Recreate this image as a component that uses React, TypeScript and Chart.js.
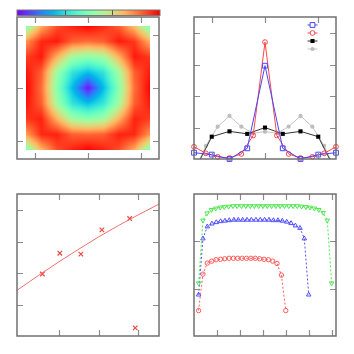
import React, { useEffect, useRef } from 'react';
import { Chart, registerables } from 'chart.js';

Chart.register(...registerables);

// ---------- Panel 1: heat map (top-left) ----------
const heatAxis = [-3.5, -2.625, -1.75, -0.875, 0, 0.875, 1.75, 2.625, 3.5];
// rows listed from top (y = 3.5) to bottom (y = -3.5)
const heatRow0 = [0.5, 0.76, 0.9, 0.96, 1.0, 0.95, 0.88, 0.72, 0.48];
const heatRow1 = [0.8, 0.95, 0.97, 0.88, 0.86, 0.88, 0.97, 0.93, 0.76];
const heatRow2 = [0.92, 0.97, 0.76, 0.57, 0.53, 0.57, 0.76, 0.97, 0.93];
const heatRow3 = [0.98, 0.88, 0.56, 0.35, 0.27, 0.35, 0.57, 0.88, 0.97];
const heatRow4 = [1.0, 0.86, 0.52, 0.26, 0.02, 0.26, 0.52, 0.86, 1.0];
const heatRow5 = [0.98, 0.88, 0.57, 0.35, 0.27, 0.36, 0.57, 0.88, 0.97];
const heatRow6 = [0.93, 0.96, 0.76, 0.57, 0.53, 0.57, 0.76, 0.96, 0.92];
const heatRow7 = [0.78, 0.95, 0.96, 0.88, 0.87, 0.88, 0.96, 0.95, 0.8];
const heatRow8 = [0.5, 0.74, 0.9, 0.96, 1.0, 0.96, 0.9, 0.76, 0.5];
const heatTicks = [-3, 0, 3];
const colorbarTicks = [0.3333, 0.6667];

// ---------- Panel 2: peaks (top-right) ----------
const peakX9 = [-4, -3, -2, -1, 0, 1, 2, 3, 4];
const peakX13 = [-4, -3.333, -2.667, -2, -1.333, -0.667, 0, 0.667, 1.333, 2, 2.667, 3.333, 4];
const blueSquares = [0.2, 0.14, 0.0, 0.34, 2.97, 0.34, 0.0, 0.14, 0.2];
const redCircles = [0.39, 0.18, 0.07, 0.03, 0.16, 0.75, 3.72, 0.75, 0.16, 0.03, 0.07, 0.18, 0.39];
const blackSquares = [-0.4, 0.71, 0.88, 0.8, 1.0, 0.8, 0.88, 0.71, -0.4];
const grayDots = [-0.4, 0.42, 1.03, 1.37, 1.03, 0.82, 0.87, 0.82, 1.03, 1.37, 1.03, 0.42, -0.4];
const peakXTicks = [-3, 0, 3];
const peakYTicks = [1, 2, 3, 4];

// ---------- Panel 3: scatter + fit (bottom-left) ----------
const scatterX = [0.58, 1.02, 1.55, 2.08, 2.78, 2.92];
const scatterY = [1.97, 2.63, 2.6, 3.37, 3.73, 0.26];
const fitX = [-0.06, 0.5, 1, 1.5, 2, 2.5, 3, 3.52];
const fitY = [1.45, 1.94, 2.36, 2.76, 3.15, 3.51, 3.85, 4.19];
const fitXTicks = [1, 2, 3];
const fitYTicks = [1, 2, 3, 4];

// ---------- Panel 4: plateaus (bottom-right) ----------
const redPlateauX = [0.2, 0.39, 0.58, 0.77, 0.96, 1.15, 1.34, 1.53, 1.72, 1.91, 2.1, 2.29, 2.48, 2.67, 2.86, 3.05, 3.24, 3.43, 3.62, 3.81, 4.0];
const redPlateauY = [0.55, 1.31, 1.54, 1.58, 1.61, 1.62, 1.63, 1.64, 1.64, 1.64, 1.64, 1.64, 1.64, 1.64, 1.63, 1.62, 1.61, 1.58, 1.53, 1.29, 0.55];
const bluePlateauX = [0.2, 0.39, 0.58, 0.78, 0.97, 1.16, 1.35, 1.54, 1.74, 1.93, 2.12, 2.31, 2.5, 2.7, 2.89, 3.08, 3.27, 3.46, 3.66, 3.85, 4.04, 4.23, 4.42, 4.62, 4.81, 5.0];
const bluePlateauY = [0.88, 2.05, 2.3, 2.36, 2.39, 2.41, 2.42, 2.43, 2.44, 2.44, 2.44, 2.44, 2.44, 2.44, 2.44, 2.44, 2.44, 2.43, 2.43, 2.42, 2.4, 2.37, 2.32, 2.27, 2.05, 0.88];
const greenPlateauX = [0.2, 0.39, 0.57, 0.76, 0.95, 1.14, 1.32, 1.51, 1.7, 1.88, 2.07, 2.26, 2.45, 2.63, 2.82, 3.01, 3.19, 3.38, 3.57, 3.75, 3.94, 4.13, 4.32, 4.5, 4.69, 4.88, 5.06, 5.25, 5.44, 5.63, 5.81, 6.0];
const greenPlateauY = [1.12, 2.43, 2.58, 2.65, 2.68, 2.7, 2.71, 2.72, 2.73, 2.73, 2.73, 2.73, 2.73, 2.73, 2.73, 2.73, 2.73, 2.73, 2.73, 2.73, 2.73, 2.73, 2.73, 2.73, 2.72, 2.71, 2.7, 2.68, 2.65, 2.59, 2.43, 1.12];
const plateauXTicks = [1, 2, 3, 4, 5, 6];
const plateauYTicks = [1, 2];

// ---------- helpers ----------
const TICK = 6;
const pts = (xs: number[], ys: number[]) => xs.map((x, i) => ({ x, y: ys[i] }));

function rainbow(t: number): [number, number, number] {
  const v = Math.max(0, Math.min(1, t));
  const r = Math.min(1, Math.abs(2 * v - 0.5));
  const g = Math.sin(Math.PI * v);
  const b = Math.cos((Math.PI * v) / 2);
  return [r * 255, g * 255, b * 255];
}

function fracIndex(v: number, axis: number[]) {
  const n = axis.length;
  if (v <= axis[0]) return 0;
  if (v >= axis[n - 1]) return n - 1;
  for (let i = 0; i < n - 1; i++) {
    if (v >= axis[i] && v <= axis[i + 1]) return i + (v - axis[i]) / (axis[i + 1] - axis[i]);
  }
  return n - 1;
}

function frameTicks(xTicks: number[], yTicks: number[]) {
  return {
    id: 'frameTicks',
    afterDraw(chart: any) {
      const { ctx, chartArea: a, scales } = chart;
      ctx.save();
      ctx.strokeStyle = '#8c8c8c';
      ctx.lineWidth = 1.2;
      ctx.beginPath();
      for (const v of xTicks) {
        const p = Math.round(scales.x.getPixelForValue(v)) + 0.5;
        ctx.moveTo(p, a.bottom);
        ctx.lineTo(p, a.bottom - TICK);
        ctx.moveTo(p, a.top);
        ctx.lineTo(p, a.top + TICK);
      }
      for (const v of yTicks) {
        const p = Math.round(scales.y.getPixelForValue(v)) + 0.5;
        ctx.moveTo(a.left, p);
        ctx.lineTo(a.left + TICK, p);
        ctx.moveTo(a.right, p);
        ctx.lineTo(a.right - TICK, p);
      }
      ctx.stroke();
      ctx.strokeStyle = '#707070';
      ctx.lineWidth = 1.5;
      ctx.strokeRect(a.left, a.top, a.right - a.left, a.bottom - a.top);
      ctx.restore();
    },
  };
}

const heatPlugin = {
  id: 'heat',
  beforeDatasetsDraw(chart: any) {
    const { ctx, scales } = chart;
    const xs = scales.x;
    const ys = scales.y;
    const rows = [heatRow0, heatRow1, heatRow2, heatRow3, heatRow4, heatRow5, heatRow6, heatRow7, heatRow8];
    const n = heatAxis.length;
    const x0 = Math.round(xs.getPixelForValue(heatAxis[0]));
    const x1 = Math.round(xs.getPixelForValue(heatAxis[n - 1]));
    const y0 = Math.round(ys.getPixelForValue(heatAxis[n - 1]));
    const y1 = Math.round(ys.getPixelForValue(heatAxis[0]));
    const w = x1 - x0;
    const h = y1 - y0;
    const off = document.createElement('canvas');
    off.width = w;
    off.height = h;
    const octx = off.getContext('2d')!;
    const img = octx.createImageData(w, h);
    for (let py = 0; py < h; py++) {
      const vy = ys.getValueForPixel(y0 + py + 0.5);
      const fy = n - 1 - fracIndex(vy, heatAxis); // row index from top
      const r0 = Math.min(n - 2, Math.floor(fy));
      const ty = fy - r0;
      for (let px = 0; px < w; px++) {
        const vx = xs.getValueForPixel(x0 + px + 0.5);
        const fx = fracIndex(vx, heatAxis);
        const c0 = Math.min(n - 2, Math.floor(fx));
        const tx = fx - c0;
        const v =
          rows[r0][c0] * (1 - tx) * (1 - ty) +
          rows[r0][c0 + 1] * tx * (1 - ty) +
          rows[r0 + 1][c0] * (1 - tx) * ty +
          rows[r0 + 1][c0 + 1] * tx * ty;
        const [r, g, b] = rainbow(v);
        const k = (py * w + px) * 4;
        img.data[k] = r;
        img.data[k + 1] = g;
        img.data[k + 2] = b;
        img.data[k + 3] = 255;
      }
    }
    octx.putImageData(img, 0, 0);
    ctx.drawImage(off, x0, y0);
  },
  afterDraw(chart: any) {
    const { ctx, chartArea: a } = chart;
    const top = a.top - 7;
    const hgt = 5.5;
    const left = a.left;
    const width = a.right - a.left + 1;
    ctx.save();
    for (let i = 0; i < width; i++) {
      const [r, g, b] = rainbow(i / (width - 1));
      ctx.fillStyle = `rgb(${r | 0},${g | 0},${b | 0})`;
      ctx.fillRect(left + i, top, 1, hgt);
    }
    ctx.strokeStyle = '#555';
    ctx.lineWidth = 1;
    ctx.beginPath();
    for (const t of colorbarTicks) {
      const p = Math.round(left + t * width) + 0.5;
      ctx.moveTo(p, top);
      ctx.lineTo(p, top + hgt);
    }
    ctx.stroke();
    ctx.strokeStyle = '#777';
    ctx.strokeRect(left, top, width, hgt);
    ctx.restore();
  },
};

const legendPlugin = {
  id: 'miniLegend',
  afterDraw(chart: any) {
    const { ctx, chartArea: a } = chart;
    const cx = a.right - 23.5;
    chart.data.datasets.forEach((ds: any, i: number) => {
      const y = a.top + 8 + i * 8;
      ctx.save();
      ctx.strokeStyle = ds.borderColor;
      ctx.lineWidth = 1;
      ctx.beginPath();
      ctx.moveTo(cx - 5, y);
      ctx.lineTo(cx + 5, y);
      ctx.stroke();
      const r = ds.pointRadius;
      const filled = ds.pointBackgroundColor !== 'rgba(255,255,255,0)';
      ctx.beginPath();
      if (ds.pointStyle === 'rect') {
        const s = Math.SQRT1_2 * r;
        ctx.rect(cx - s, y - s, 2 * s, 2 * s);
      } else {
        ctx.arc(cx, y, r, 0, Math.PI * 2);
      }
      if (filled) {
        ctx.fillStyle = ds.pointBackgroundColor;
        ctx.fill();
      } else {
        ctx.fillStyle = '#fff';
        ctx.fill();
        ctx.strokeStyle = ds.pointBorderColor;
        ctx.stroke();
      }
      ctx.restore();
    });
  },
};

function baseOptions(xMin: number, xMax: number, yMin: number, yMax: number): any {
  return {
    responsive: false,
    animation: false,
    devicePixelRatio: 1,
    events: [],
    layout: { padding: { left: 17, right: 18, top: 17, bottom: 18 } },
    plugins: { legend: { display: false }, tooltip: { enabled: false } },
    scales: {
      x: { type: 'linear', min: xMin, max: xMax, display: false },
      y: { type: 'linear', min: yMin, max: yMax, display: false },
    },
  };
}

const HOLLOW = 'rgba(255,255,255,0)';

function heatConfig(): any {
  return {
    type: 'scatter',
    data: { datasets: [{ data: [], pointRadius: 0 }] },
    options: baseOptions(-4, 4, -4, 4),
    plugins: [heatPlugin, frameTicks(heatTicks, heatTicks)],
  };
}

function peaksConfig(): any {
  const BLUE = 'rgb(70,70,255)';
  const RED = 'rgb(255,70,70)';
  return {
    type: 'scatter',
    data: {
      datasets: [
        {
          data: pts(peakX9, blueSquares), showLine: true, borderColor: BLUE, borderWidth: 1,
          pointStyle: 'rect', pointRadius: 3.4, pointBorderColor: BLUE, pointBackgroundColor: HOLLOW,
          pointBorderWidth: 1, clip: 8,
        },
        {
          data: pts(peakX13, redCircles), showLine: true, borderColor: RED, borderWidth: 1,
          pointStyle: 'circle', pointRadius: 2.4, pointBorderColor: RED, pointBackgroundColor: HOLLOW,
          pointBorderWidth: 1, clip: 8,
        },
        {
          data: pts(peakX9, blackSquares), showLine: true, borderColor: '#333', borderWidth: 1,
          pointStyle: 'rect', pointRadius: 2.9, pointBorderColor: '#000', pointBackgroundColor: '#000',
          pointBorderWidth: 0, clip: 0,
        },
        {
          data: pts(peakX13, grayDots), showLine: true, borderColor: '#c4c4c4', borderWidth: 1,
          pointStyle: 'circle', pointRadius: 2.1, pointBorderColor: '#bdbdbd', pointBackgroundColor: '#bdbdbd',
          pointBorderWidth: 0, clip: 0,
        },
      ],
    },
    options: baseOptions(-4, 4, 0, 4.52),
    plugins: [frameTicks(peakXTicks, peakYTicks), legendPlugin],
  };
}

function fitConfig(): any {
  return {
    type: 'scatter',
    data: {
      datasets: [
        {
          data: pts(fitX, fitY), showLine: true, borderColor: 'rgb(245,110,110)', borderWidth: 1,
          pointRadius: 0, clip: 0,
        },
        {
          data: pts(scatterX, scatterY), showLine: false, pointStyle: 'crossRot', pointRadius: 3.2,
          pointBorderColor: 'rgb(235,70,70)', pointBorderWidth: 1.2, clip: 8,
        },
      ],
    },
    options: baseOptions(-0.06, 3.52, 0, 4.51),
    plugins: [frameTicks(fitXTicks, fitYTicks)],
  };
}

function plateauConfig(): any {
  const RED = 'rgb(255,90,90)';
  const BLUE = 'rgb(80,80,255)';
  const GREEN = 'rgb(80,230,80)';
  const common = { showLine: true, borderWidth: 1, borderDash: [2, 2], pointBorderWidth: 1, pointBackgroundColor: HOLLOW, clip: 8 };
  return {
    type: 'scatter',
    data: {
      datasets: [
        { ...common, data: pts(greenPlateauX, greenPlateauY), borderColor: GREEN, pointBorderColor: GREEN, pointStyle: 'triangle', pointRotation: 180, pointRadius: 2.6 },
        { ...common, data: pts(bluePlateauX, bluePlateauY), borderColor: BLUE, pointBorderColor: BLUE, pointStyle: 'triangle', pointRadius: 2.6 },
        { ...common, data: pts(redPlateauX, redPlateauY), borderColor: RED, pointBorderColor: RED, pointStyle: 'circle', pointRadius: 2.2 },
      ],
    },
    options: baseOptions(0, 6.19, 0.02, 2.98),
    plugins: [frameTicks(plateauXTicks, plateauYTicks)],
  };
}

function Panel({ make, left, top }: { make: () => any; left: number; top: number }) {
  const ref = useRef<HTMLCanvasElement>(null);
  useEffect(() => {
    const chart = new Chart(ref.current as HTMLCanvasElement, make());
    return () => chart.destroy();
  }, [make]);
  return (
    <canvas
      ref={ref}
      width={177}
      height={177}
      style={{ position: 'absolute', left, top, width: 177, height: 177 }}
    />
  );
}

export default function App() {
  useEffect(() => {
    document.body.style.margin = '0';
    document.body.style.background = '#fff';
  }, []);
  return (
    <div style={{ position: 'fixed', left: 0, top: 0, width: 354, height: 354, background: '#fff' }}>
      <Panel make={heatConfig} left={0} top={0} />
      <Panel make={peaksConfig} left={177} top={0} />
      <Panel make={fitConfig} left={0} top={177} />
      <Panel make={plateauConfig} left={177} top={177} />
    </div>
  );
}
